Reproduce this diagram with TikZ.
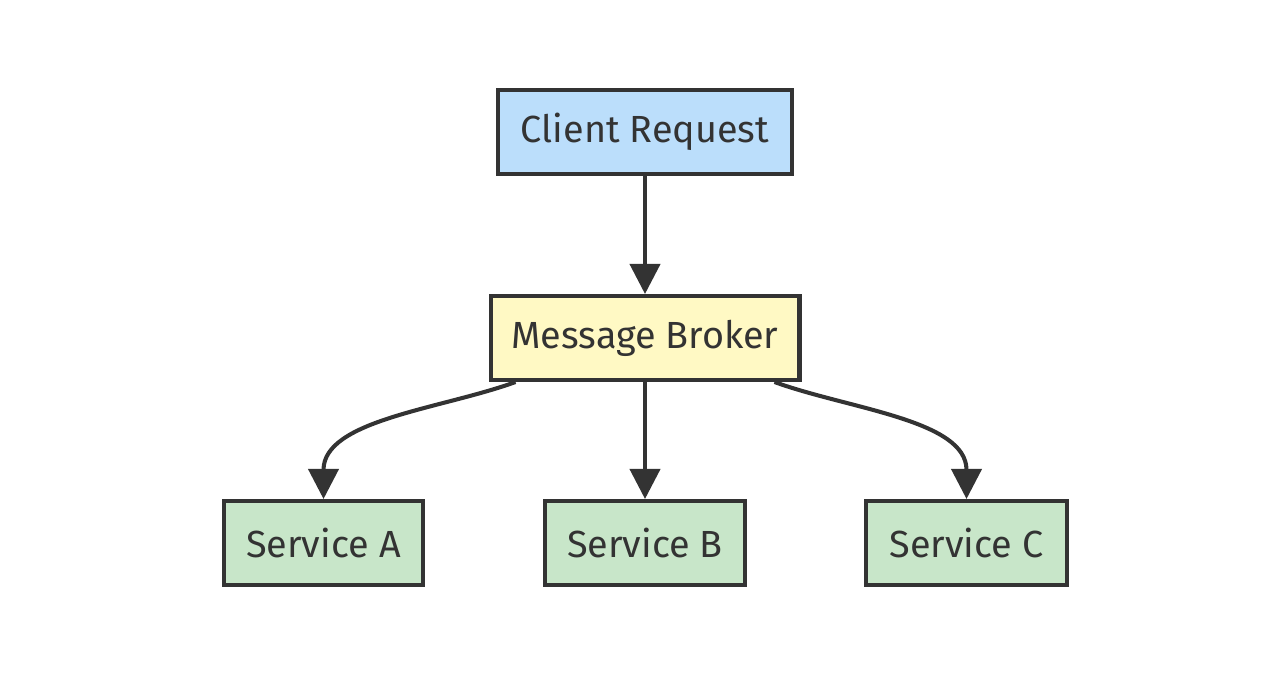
\documentclass[tikz,border=0pt]{standalone}
\usepackage{fontspec}
\setmainfont{Fira Sans}
\usetikzlibrary{arrows.meta}
\usetikzlibrary{calc}
\definecolor{ink}{HTML}{333333}
\definecolor{reqblue}{HTML}{BBDEFB}
\definecolor{brokeryellow}{HTML}{FFF9C4}
\definecolor{svcgreen}{HTML}{C8E6C9}

\begin{document}
\begin{tikzpicture}[x=0.02cm, y=-0.02cm,
        box/.style={draw=ink, line width=2.3pt, minimum height=1.68cm, inner sep=0pt, text=ink, font=\fontsize{21.5}{25}\selectfont},
        flow/.style={draw=ink, line width=2.3pt, -{Triangle[length=0.6cm, width=0.6cm]}}]
        \useasboundingbox (0,0) rectangle (1280,689);
        \node[box, fill=reqblue, minimum width=5.88cm] (req) at (645,132) {Client Request};
        \node[box, fill=brokeryellow, minimum width=6.18cm] (broker) at (645,338) {Message Broker};
        \node[box, fill=svcgreen, minimum width=3.98cm] (sa) at (323.5,543) {Service A};
        \node[box, fill=svcgreen, minimum width=4.0cm] (sb) at (645,543) {Service B};
        \node[box, fill=svcgreen, minimum width=4.02cm] (sc) at (966.5,543) {Service C};
        % edges
        \draw[flow] (req.south) -- (broker.north);
        \draw[flow] ($(broker.south west)+(27,0)$) to[out=200, in=90, looseness=0.9] (sa.north);
        \draw[flow] (broker.south) -- (sb.north);
        \draw[flow] ($(broker.south east)+(-27,0)$) to[out=-20, in=90, looseness=0.9] (sc.north);
    \end{tikzpicture}
\end{document}
